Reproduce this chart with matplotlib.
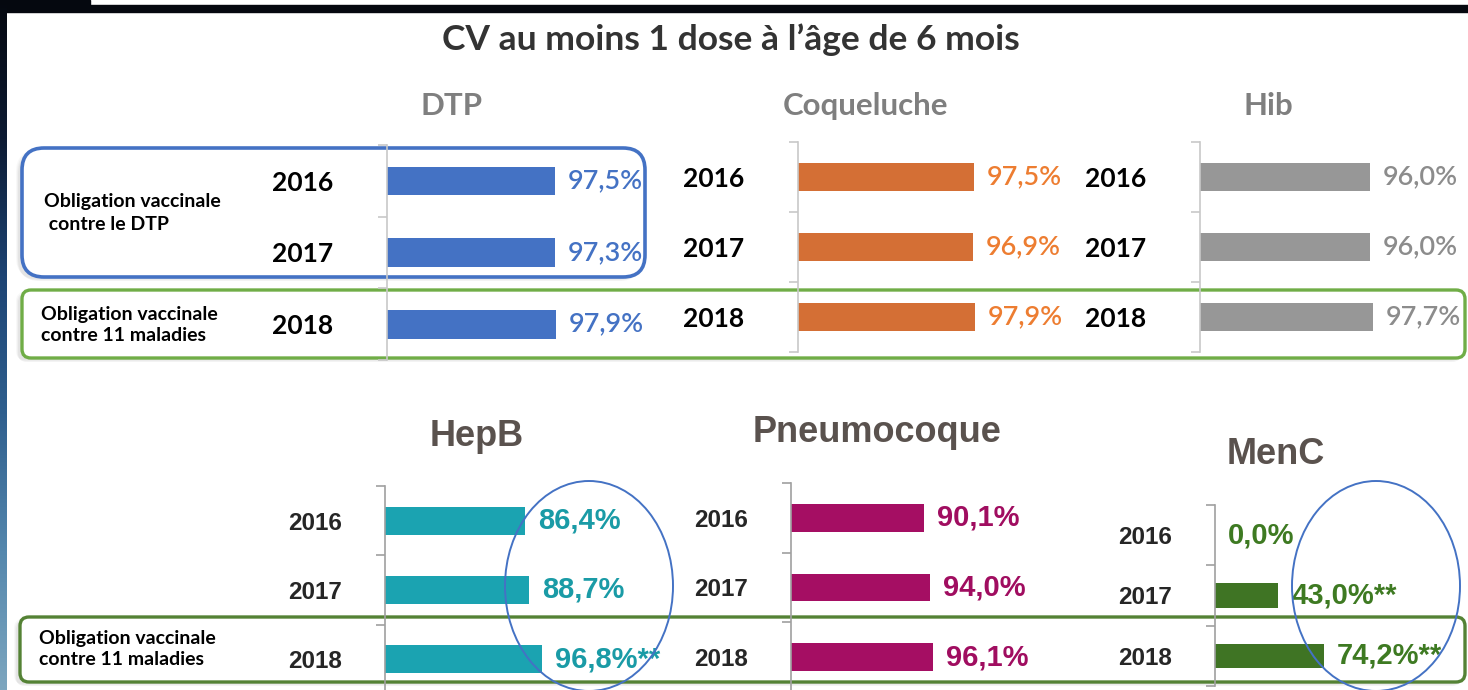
import numpy as np
import matplotlib.pyplot as plt
from matplotlib.patches import FancyBboxPatch, Ellipse, Rectangle
from matplotlib.colors import LinearSegmentedColormap

W, H = 1468, 690

# data
years = ["2016", "2017", "2018"]
dtp = [97.5, 97.3, 97.9]
coqueluche = [97.5, 96.9, 97.9]
hib = [96.0, 96.0, 97.7]
hepb = [86.4, 88.7, 96.8]
pneumocoque = [90.1, 94.0, 96.1]
menc = [0.0, 43.0, 74.2]
hepb_marks = ["", "", "**"]
menc_marks = ["", "**", "**"]
no_marks = ["", "", ""]

title = "CV au moins 1 dose à l’âge de 6 mois"
box_dtp_text = "Obligation vaccinale\n contre le DTP"
box_11_text = "Obligation vaccinale\ncontre 11 maladies"

fig = plt.figure(figsize=(W / 100, H / 100), dpi=100)
fig.patch.set_facecolor("white")

# background axes in pixel coordinates
bg = fig.add_axes([0, 0, 1, 1], zorder=0)
bg.set_xlim(0, W)
bg.set_ylim(H, 0)
bg.axis("off")

# overlay axes for things drawn above the bars
fg = fig.add_axes([0, 0, 1, 1], zorder=10)
fg.set_xlim(0, W)
fg.set_ylim(H, 0)
fg.axis("off")
fg.patch.set_alpha(0)

# slide edges: black band on top, blue gradient strip on the left
bg.add_patch(Rectangle((0, 5), W, 7, color="#05080f", zorder=5))
bg.add_patch(Rectangle((0, 0), 90, 6, color="#05080f", zorder=5))
grad = np.linspace(0, 1, 256).reshape(-1, 1)
strip_cmap = LinearSegmentedColormap.from_list(
    "strip", ["#05080f", "#0d1b33", "#1d4474", "#2f5f8e", "#5487ad", "#7da6bf"])
bg.imshow(grad, cmap=strip_cmap, aspect="auto", extent=[0, 7, H, 0], zorder=5)


def shadow_box(ax, x0, y0, x1, y1, pad, color, lw):
    # soft grey shadow offset to the lower left
    for i, a in enumerate([0.05, 0.07, 0.09]):
        s = FancyBboxPatch((x0 - 6 + i, y0 + 2 + i), x1 - x0, y1 - y0,
                           boxstyle=f"round,pad=0,rounding_size={pad}",
                           fc="#808080", ec="none", alpha=a, zorder=1)
        ax.add_patch(s)
    b = FancyBboxPatch((x0, y0), x1 - x0, y1 - y0,
                       boxstyle=f"round,pad=0,rounding_size={pad}",
                       fc="white", ec=color, lw=lw, zorder=2)
    ax.add_patch(b)


shadow_box(bg, 22, 148, 645, 277, 22, "#4472C4", 2.6)
shadow_box(bg, 22, 290, 1465, 358, 9, "#70AD47", 2.4)
shadow_box(bg, 20, 617, 1465, 682, 9, "#548235", 2.4)

box_font = dict(fontsize=14, fontweight="bold", family="Lato", va="center",
                ha="left", zorder=6)
bg.text(44, 213, box_dtp_text, linespacing=1.4, **box_font)
bg.text(41, 325, box_11_text, linespacing=1.25, **box_font)
bg.text(39, 649, box_11_text, linespacing=1.25, **box_font)

bg.text(731, 40, title, fontsize=25.5, fontweight="bold", family="Lato",
        color="#333333", ha="center", va="center", zorder=6)


def panel(values, marks, axis_x, y_top, y_bot, scale, bar_color, text_color,
          name, name_xy, name_size, name_color, font, year_size, val_size,
          val_weight, year_color, spine_color, year_pad):
    width = 100 * scale
    ax = fig.add_axes([axis_x / W, (H - y_bot) / H, width / W, (y_bot - y_top) / H],
                      zorder=5)
    ax.patch.set_alpha(0)
    pos = np.arange(len(years))
    ax.barh(pos, values, height=0.4, color=bar_color)
    ax.set_xlim(0, 100)
    ax.set_ylim(len(years) - 0.5, -0.5)
    ax.set_xticks([])
    ax.set_yticks(pos, years)
    ax.set_yticks(np.arange(len(years) + 1) - 0.5, minor=True)
    ax.tick_params(axis="y", which="major", length=0, pad=year_pad)
    ax.tick_params(axis="y", which="minor", length=6.5, width=1.2, color=spine_color)
    for lab in ax.get_yticklabels():
        lab.set_fontfamily(font)
        lab.set_fontweight("bold")
        lab.set_fontsize(year_size)
        lab.set_color(year_color)
    for s in ["top", "right", "bottom"]:
        ax.spines[s].set_visible(False)
    ax.spines["left"].set_color(spine_color)
    ax.spines["left"].set_linewidth(1.2)
    for p, v, m in zip(pos, values, marks):
        txt = f"{v:.1f}".replace(".", ",") + "%" + m
        ax.annotate(txt, (v, p), xytext=(9.5, 0), textcoords="offset points",
                    ha="left", va="center", color=text_color, fontsize=val_size,
                    fontweight=val_weight, family=font, annotation_clip=False)
    bg.text(name_xy[0], name_xy[1], name, fontsize=name_size, fontweight="bold",
            family=font, color=name_color, ha="center", va="center", zorder=6)
    return ax


top = dict(font="Lato", year_size=19, val_size=19.5, val_weight="semibold",
           year_color="black", spine_color="#c8c8c8", year_pad=39,
           name_size=22.5, name_color="#7f7f7f")
panel(dtp, no_marks, 387, 145, 360, 1.723, "#4472C4", "#4472C4",
      "DTP", (452, 106), **top)
panel(coqueluche, no_marks, 798, 142, 352, 1.804, "#D46F35", "#ED7D31",
      "Coqueluche", (866, 106), **top)
panel(hib, no_marks, 1200, 142, 352, 1.771, "#979797", "#8c8c8c",
      "Hib", (1268, 106), **top)

bot = dict(font="Liberation Sans", year_size=17.5, val_size=21, val_weight="bold",
           year_color="#262626", spine_color="#a0a0a0", year_pad=31,
           name_size=26, name_color="#5a524e")
panel(hepb, hepb_marks, 385, 486, 694, 1.62, "#1BA3B1", "#1A9BA6",
      "HepB", (477, 437), **bot)
panel(pneumocoque, no_marks, 791, 483, 692, 1.477, "#A50E63", "#A00D60",
      "Pneumocoque", (877, 432), **bot)
panel(menc, menc_marks, 1215, 505, 686, 1.467, "#3F7424", "#3E7A22",
      "MenC", (1276, 454), **bot)

# highlight ellipses
for cx in [589, 1376]:
    fg.add_patch(Ellipse((cx, 586), 168, 210, fc="none", ec="#4472C4", lw=1.4))

fig.savefig("out.png", dpi=100)
